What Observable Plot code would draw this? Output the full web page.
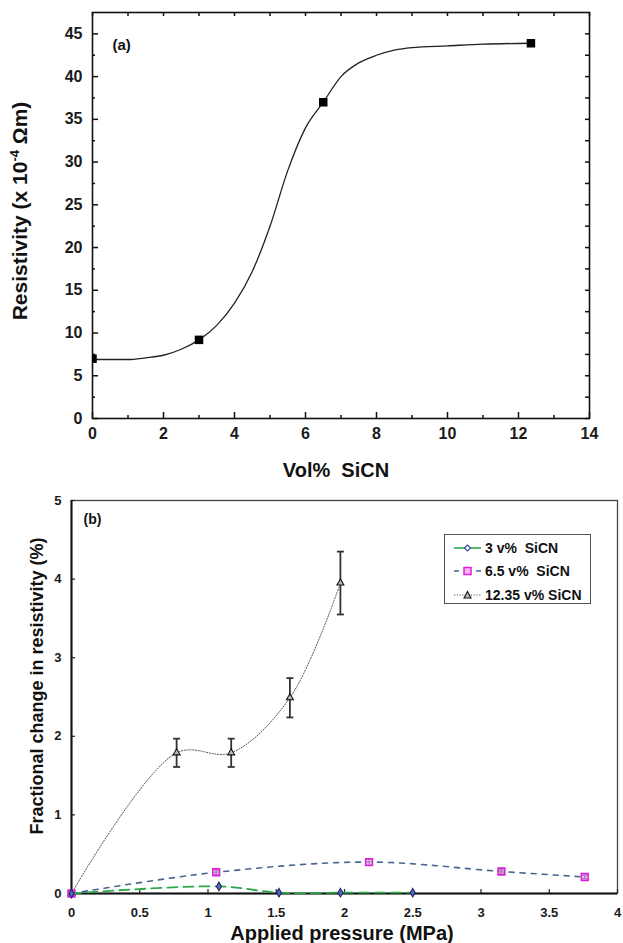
<!DOCTYPE html>
<html><head><meta charset="utf-8">
<script src="https://cdn.jsdelivr.net/npm/d3@7"></script>
<script src="https://cdn.jsdelivr.net/npm/@observablehq/plot@0.6"></script>
<style>
body{margin:0;background:#fff;font-family:Arial,"Liberation Sans",sans-serif;}
#wrap{position:relative;width:623px;height:943px;overflow:hidden;}
#a,#b{position:absolute;left:0;}
#a{top:0}
#b{top:480px}
.legend{position:absolute;left:444px;top:534px;width:145px;height:68px;border:1.5px solid #555;background:#fff;}
.row{position:absolute;left:8px;height:20px;display:flex;align-items:center;}
.row span{font-weight:bold;font-size:14px;color:#111;margin-left:3px;white-space:pre;}
</style></head><body>
<div id="wrap"><div id="a"></div><div id="b"></div>
<div class="legend">
  <div class="row" style="top:3px"><svg width="29" height="12"><line x1="1" y1="6" x2="28" y2="6" stroke="#2aa84a" stroke-width="1.6"/><path d="M14.5,3 L17.5,6 L14.5,9 L11.5,6 Z" fill="#fff" stroke="#3a4aa8" stroke-width="1.2"/></svg><span>3 v%  SiCN</span></div>
  <div class="row" style="top:26px"><svg width="29" height="12"><line x1="1" y1="6" x2="28" y2="6" stroke="#4a6690" stroke-width="1.6" stroke-dasharray="5,6"/><rect x="11" y="2.5" width="7" height="7" fill="#f4b8f4" stroke="#e01ee0" stroke-width="1.5"/></svg><span>6.5 v%  SiCN</span></div>
  <div class="row" style="top:50px"><svg width="29" height="12"><line x1="1" y1="6" x2="28" y2="6" stroke="#555" stroke-width="1" stroke-dasharray="1.2,1.6"/><path d="M14.5,2.5 L18,9 L11,9 Z" fill="#bbb" stroke="#111" stroke-width="1.1"/></svg><span>12.35 v% SiCN</span></div>
</div>
</div>
<script>
// ---------- Panel (a) data ----------
const volPct = [0, 3, 6.5, 12.35];
const resistivity = [7.0, 9.2, 37.0, 43.9];
// fitted curve
const fitVol = [0, 1, 1.5, 2, 2.5, 3, 3.5, 4, 4.5, 5, 5.5, 6, 6.5, 7, 7.5, 8, 8.5, 9, 10, 11, 12.35];
const fitRes = [6.9, 6.9, 7.1, 7.4, 8.1, 9.2, 10.9, 13.5, 17.2, 22.5, 29, 34, 37, 40, 41.6, 42.5, 43.1, 43.4, 43.6, 43.8, 43.9];
const xMajorA = [0, 2, 4, 6, 8, 10, 12, 14];
const xMinorA = [1, 3, 5, 7, 9, 11, 13];
const yMajorA = [0, 5, 10, 15, 20, 25, 30, 35, 40, 45];
const yMinorA = [2.5, 7.5, 12.5, 17.5, 22.5, 27.5, 32.5, 37.5, 42.5];

// ---------- Panel (b) data ----------
const pressure3 = [0, 1.08, 1.52, 1.97, 2.5];
const frac3 = [0, 0.09, 0.01, 0.01, 0.01];
const pressure65 = [0, 1.06, 2.18, 3.15, 3.76];
const frac65 = [0, 0.27, 0.40, 0.28, 0.21];
const err65 = [0, 0.03, 0.04, 0.02, 0.02];
const pressure1235 = [0, 0.77, 1.17, 1.6, 1.97];
const frac1235 = [0, 1.79, 1.79, 2.49, 3.95];
const err1235 = [0, 0.18, 0.18, 0.25, 0.4];
const xTicksB = [0, 0.5, 1, 1.5, 2, 2.5, 3, 3.5, 4];
const yTicksB = [0, 1, 2, 3, 4, 5];

const FONT = "Arial, 'Liberation Sans', sans-serif";
const W = 623;
const fmt = d => String(d);

// ----- build (a) -----
const HA = 480, mA = {top: 12, right: 34, bottom: 62, left: 92};
const iwA = W - mA.left - mA.right, ihA = HA - mA.top - mA.bottom;
const ptsA = volPct.map((v, i) => ({x: v, y: resistivity[i]}));
const fitA = fitVol.map((v, i) => ({x: v, y: fitRes[i]}));
const TK = "#111";
const plotA = Plot.plot({
  width: W, height: HA,
  marginTop: mA.top, marginRight: mA.right, marginBottom: mA.bottom, marginLeft: mA.left,
  style: {fontFamily: FONT, background: "transparent"},
  x: {domain: [0, 14]},
  y: {domain: [0, 47.5]},
  marks: [
    Plot.ruleX(xMajorA, {x: d => d, insetTop: ihA - 6, stroke: TK, strokeWidth: 1.5}),
    Plot.ruleX(xMinorA, {x: d => d, insetTop: ihA - 3, stroke: TK, strokeWidth: 1.5}),
    Plot.ruleX(xMajorA.concat(xMinorA), {x: d => d, insetBottom: ihA - 4, stroke: TK, strokeWidth: 1.5}),
    Plot.ruleY(yMajorA, {y: d => d, insetRight: iwA - 6, stroke: TK, strokeWidth: 1.5}),
    Plot.ruleY(yMinorA, {y: d => d, insetRight: iwA - 3, stroke: TK, strokeWidth: 1.5}),
    Plot.ruleY(yMajorA.concat(yMinorA), {y: d => d, insetLeft: iwA - 4, stroke: TK, strokeWidth: 1.5}),
    Plot.frame({stroke: TK, strokeWidth: 1.6}),
    Plot.axisX(xMajorA, {tickSize: 0, tickPadding: 9, fontSize: 16, fontWeight: "bold", fill: "#1a1a1a", label: null, tickFormat: fmt}),
    Plot.axisY(yMajorA, {tickSize: 0, tickPadding: 10, fontSize: 16, fontWeight: "bold", fill: "#1a1a1a", label: null, tickFormat: fmt}),
    Plot.line(fitA, {x: "x", y: "y", stroke: "#222", strokeWidth: 1.3, curve: "monotone-x"}),
    Plot.dot(ptsA, {x: "x", y: "y", symbol: "square", r: 4.8, fill: "#000", clip: true}),
    Plot.text(["(a)"], {frameAnchor: "top-left", dx: 20, dy: 33, text: d => d, fontSize: 15, fontWeight: "bold", fill: "#111", textAnchor: "start", lineAnchor: "middle"})
  ]
});
document.getElementById("a").appendChild(plotA);
{
  const s = d3.select(plotA);
  const t = s.append("text").attr("transform", "translate(20,211) rotate(-90)")
    .attr("text-anchor", "middle").attr("dy", "0.35em")
    .attr("font-family", FONT).attr("font-size", 21).attr("font-weight", "bold").attr("fill", "#111");
  t.append("tspan").text("Resistivity (x 10");
  t.append("tspan").attr("dy", -8).attr("font-size", 13).text("-4");
  t.append("tspan").attr("dy", 8).text(" Ωm)");
  s.append("text").attr("x", 336).attr("y", 470).attr("dy", "0.35em").attr("text-anchor", "middle")
    .attr("font-family", FONT).attr("font-size", 20).attr("font-weight", "bold").attr("fill", "#111")
    .attr("xml:space", "preserve").text("Vol%  SiCN");
}

// ----- build (b) -----
const HB = 463, mB = {top: 20, right: 6, bottom: 50, left: 71};
const iwB = W - mB.left - mB.right, ihB = HB - mB.top - mB.bottom;
const s3 = pressure3.map((p, i) => ({x: p, y: frac3[i]}));
const s65 = pressure65.map((p, i) => ({x: p, y: frac65[i], e: err65[i]}));
const s1235 = pressure1235.map((p, i) => ({x: p, y: frac1235[i], e: err1235[i]}));
const capSym = {draw(ctx, size) { const w = Math.sqrt(size / Math.PI); ctx.moveTo(-w, 0); ctx.lineTo(w, 0); }};
const withErr = (arr) => arr.filter(d => d.e > 0);
const plotB = Plot.plot({
  width: W, height: HB,
  marginTop: mB.top, marginRight: mB.right, marginBottom: mB.bottom, marginLeft: mB.left,
  style: {fontFamily: FONT, background: "transparent"},
  x: {domain: [0, 4]},
  y: {domain: [0, 5]},
  marks: [
    Plot.frame({stroke: "#444", strokeWidth: 1.3}),
    Plot.ruleX(xTicksB, {x: d => d, insetTop: ihB - 4, stroke: "#222", strokeWidth: 1.2}),
    Plot.ruleY(yTicksB, {y: d => d, insetRight: iwB - 4, stroke: "#222", strokeWidth: 1.2}),
    Plot.ruleY([0], {stroke: "#111", strokeWidth: 2}),
    Plot.ruleX([0], {stroke: "#111", strokeWidth: 2}),
    Plot.axisX(xTicksB, {tickSize: 0, tickPadding: 14, fontSize: 13, fontWeight: "bold", fill: "#1a1a1a", label: null, tickFormat: fmt}),
    Plot.axisY(yTicksB, {tickSize: 0, tickPadding: 10, fontSize: 13, fontWeight: "bold", fill: "#1a1a1a", label: null, tickFormat: fmt}),
    // 12.35 v%
    Plot.line(s1235, {x: "x", y: "y", stroke: "#555", strokeWidth: 1, strokeDasharray: "1.2,1.6", curve: "catmull-rom"}),
    Plot.ruleX(withErr(s1235), {x: "x", y1: d => d.y - d.e, y2: d => d.y + d.e, stroke: "#333", strokeWidth: 1.8}),
    Plot.dot(withErr(s1235), {x: "x", y: d => d.y + d.e, symbol: capSym, r: 3.5, stroke: "#333", strokeWidth: 1.8, fill: "none"}),
    Plot.dot(withErr(s1235), {x: "x", y: d => d.y - d.e, symbol: capSym, r: 3.5, stroke: "#333", strokeWidth: 1.8, fill: "none"}),
    Plot.dot(s1235, {x: "x", y: "y", symbol: "triangle", r: 2.6, fill: "#bbb", stroke: "#111", strokeWidth: 1.1}),
    // 6.5 v%
    Plot.line(s65, {x: "x", y: "y", stroke: "#4a6690", strokeWidth: 1.6, strokeDasharray: "5,6", curve: "catmull-rom"}),
    Plot.ruleX(withErr(s65), {x: "x", y1: d => d.y - d.e, y2: d => d.y + d.e, stroke: "#333", strokeWidth: 1.4}),
    Plot.dot(withErr(s65), {x: "x", y: d => d.y + d.e, symbol: capSym, r: 2.5, stroke: "#333", strokeWidth: 1.4, fill: "none"}),
    Plot.dot(withErr(s65), {x: "x", y: d => d.y - d.e, symbol: capSym, r: 2.5, stroke: "#333", strokeWidth: 1.4, fill: "none"}),
    Plot.dot(s65, {x: "x", y: "y", symbol: "square", r: 3.8, fill: "#f4b8f4", fillOpacity: 0.6, stroke: "#e01ee0", strokeWidth: 1.6}),
    // 3 v%
    Plot.line(s3, {x: "x", y: "y", stroke: "#2aa84a", strokeWidth: 1.8, strokeDasharray: "10,6", curve: "catmull-rom"}),
    Plot.dot(s3, {x: "x", y: "y", symbol: "diamond", r: 2.6, fill: "#5a6ab8", stroke: "#1c2370", strokeWidth: 1.1}),
    Plot.text(["(b)"], {frameAnchor: "top-left", dx: 12, dy: 19, text: d => d, fontSize: 14, fontWeight: "bold", fill: "#111", textAnchor: "start", lineAnchor: "middle"})
  ]
});
document.getElementById("b").appendChild(plotB);
{
  const s = d3.select(plotB);
  s.append("text").attr("transform", "translate(37,206) rotate(-90)")
    .attr("text-anchor", "middle").attr("dy", "0.35em")
    .attr("font-family", FONT).attr("font-size", 18).attr("font-weight", "bold").attr("fill", "#111")
    .text("Fractional change in resistivity (%)");
  s.append("text").attr("x", 342).attr("y", 453).attr("dy", "0.35em").attr("text-anchor", "middle")
    .attr("font-family", FONT).attr("font-size", 20).attr("font-weight", "bold").attr("fill", "#111")
    .text("Applied pressure (MPa)");
}
</script>
</body></html>
